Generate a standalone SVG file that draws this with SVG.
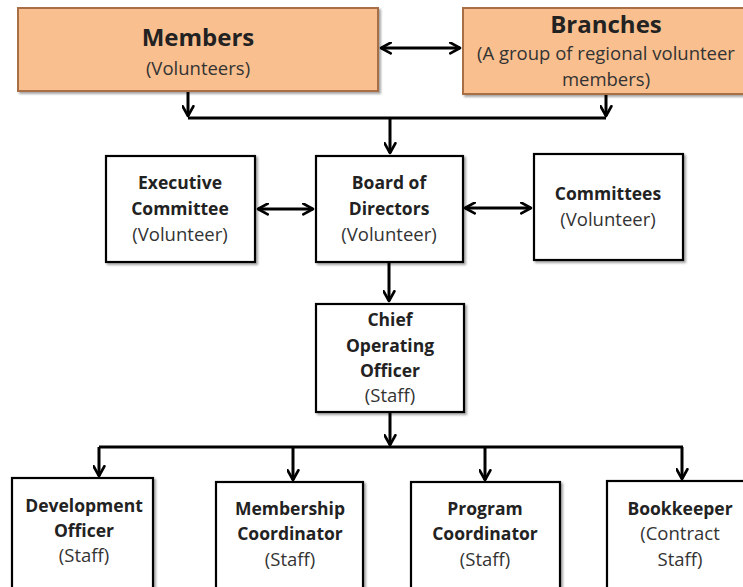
<svg xmlns="http://www.w3.org/2000/svg" width="743" height="587" viewBox="0 0 743 587">
  <defs>
    <marker id="arrow" viewBox="0 0 12 12" refX="10.5" refY="6" markerWidth="13" markerHeight="13" markerUnits="userSpaceOnUse" orient="auto-start-reverse">
      <path d="M1.5,1 L10.5,6 L1.5,11" fill="none" stroke="#000" stroke-width="2.4" stroke-linecap="round" stroke-linejoin="round"/>
    </marker>
    <filter id="shadow" x="-10%" y="-10%" width="130%" height="130%">
      <feDropShadow dx="2" dy="2" stdDeviation="1.2" flood-color="#000" flood-opacity="0.35"/>
    </filter>
  </defs>
  <style>
    .box { fill: #fff; stroke: #000; stroke-width: 2.2; filter: url(#shadow); }
    .hub { fill: #F9BF8F; stroke: #A86E45; stroke-width: 2; filter: url(#shadow); }
    .conn { fill: none; stroke: #000; stroke-width: 3; }
    text { font-family: "Open Sans", "Liberation Sans", sans-serif; text-anchor: middle; }
    .t { font-weight: bold; font-size: 17.5px; fill: #222; }
    .s { font-size: 18.5px; fill: #333; }
    .big { font-weight: bold; font-size: 24px; fill: #222; }
    .sub { font-size: 18.5px; fill: #333; }
  </style>

  <rect width="743" height="587" fill="#fff"/>

  <g id="connectors">
    <line class="conn" x1="381" y1="48" x2="460" y2="48" marker-start="url(#arrow)" marker-end="url(#arrow)"/>
    <line class="conn" x1="188" y1="92" x2="188" y2="116" marker-end="url(#arrow)"/>
    <line class="conn" x1="606" y1="95" x2="606" y2="116" marker-end="url(#arrow)"/>
    <polyline class="conn" points="188,118 606,118"/>
    <line class="conn" x1="390" y1="118" x2="390" y2="153" marker-end="url(#arrow)"/>
    <line class="conn" x1="258" y1="209" x2="313" y2="209" marker-start="url(#arrow)" marker-end="url(#arrow)"/>
    <line class="conn" x1="465" y1="208" x2="531" y2="208" marker-start="url(#arrow)" marker-end="url(#arrow)"/>
    <line class="conn" x1="389" y1="263" x2="389" y2="301" marker-end="url(#arrow)"/>
    <line class="conn" x1="390" y1="413" x2="390" y2="445" marker-end="url(#arrow)"/>
    <polyline class="conn" points="99,447 683,447"/>
    <line class="conn" x1="99" y1="447" x2="99" y2="476" marker-end="url(#arrow)"/>
    <line class="conn" x1="293" y1="447" x2="293" y2="480" marker-end="url(#arrow)"/>
    <line class="conn" x1="485" y1="447" x2="485" y2="480" marker-end="url(#arrow)"/>
    <line class="conn" x1="682" y1="447" x2="682" y2="479" marker-end="url(#arrow)"/>
  </g>

  <g id="members">
    <rect class="hub" x="18" y="8" width="360" height="83"/>
    <text class="big" x="198" y="46">Members</text>
    <text class="sub" x="198" y="75">(Volunteers)</text>
  </g>

  <g id="branches">
    <rect class="hub" x="463" y="8" width="290" height="86"/>
    <text class="big" x="606" y="33">Branches</text>
    <text class="sub" x="606" y="60">(A group of regional volunteer</text>
    <text class="sub" x="606" y="86">members)</text>
  </g>

  <g id="executive-committee">
    <rect class="box" x="106" y="156" width="149" height="106"/>
    <text class="t" x="180" y="189">Executive</text>
    <text class="t" x="180" y="215">Committee</text>
    <text class="s" x="180" y="241">(Volunteer)</text>
  </g>

  <g id="board-of-directors">
    <rect class="box" x="316" y="156" width="147" height="106"/>
    <text class="t" x="389" y="189">Board of</text>
    <text class="t" x="389" y="215">Directors</text>
    <text class="s" x="389" y="241">(Volunteer)</text>
  </g>

  <g id="committees">
    <rect class="box" x="534" y="154" width="149" height="106"/>
    <text class="t" x="608" y="200">Committees</text>
    <text class="s" x="608" y="226">(Volunteer)</text>
  </g>

  <g id="chief-operating-officer">
    <rect class="box" x="316" y="304" width="148" height="108"/>
    <text class="t" x="390" y="326">Chief</text>
    <text class="t" x="390" y="352">Operating</text>
    <text class="t" x="390" y="377">Officer</text>
    <text class="s" x="390" y="402">(Staff)</text>
  </g>

  <g id="development-officer">
    <rect class="box" x="12" y="478" width="141" height="120"/>
    <text class="t" x="84" y="512">Development</text>
    <text class="t" x="84" y="537">Officer</text>
    <text class="s" x="84" y="562">(Staff)</text>
  </g>

  <g id="membership-coordinator">
    <rect class="box" x="216" y="482" width="147" height="120"/>
    <text class="t" x="290" y="515">Membership</text>
    <text class="t" x="290" y="540">Coordinator</text>
    <text class="s" x="290" y="566">(Staff)</text>
  </g>

  <g id="program-coordinator">
    <rect class="box" x="411" y="482" width="149" height="120"/>
    <text class="t" x="485" y="515">Program</text>
    <text class="t" x="485" y="540">Coordinator</text>
    <text class="s" x="485" y="566">(Staff)</text>
  </g>

  <g id="bookkeeper">
    <rect class="box" x="607" y="481" width="145" height="120"/>
    <text class="t" x="680" y="515">Bookkeeper</text>
    <text class="s" x="680" y="540">(Contract</text>
    <text class="s" x="680" y="566">Staff)</text>
  </g>
</svg>
